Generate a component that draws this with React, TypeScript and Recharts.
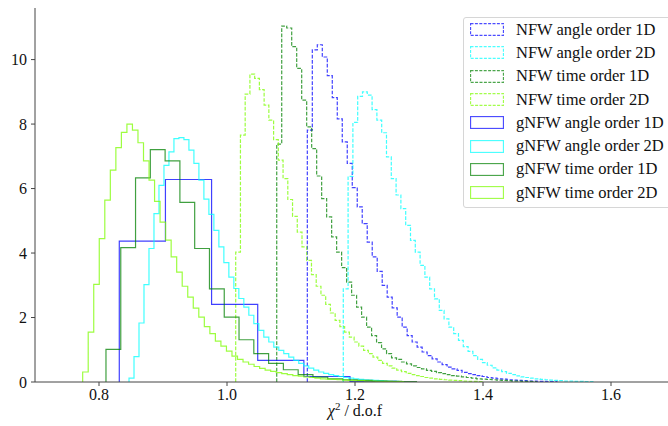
import { ComposedChart, Line, XAxis, YAxis, Legend } from "recharts";

const serif = '"Liberation Serif", Tinos, "Times New Roman", Times, "DejaVu Serif", serif';

const xTicks = [0.8, 1.0, 1.2, 1.4, 1.6];
const yTicks = [0, 2, 4, 6, 8, 10];

// each histogram: first bin edge, bin width, densities per bin

// NFW angle order 1D
const nfwAngle1DStart = 1.1255;
const nfwAngle1DBin = 0.0078;
const nfwAngle1D = [
    7.81, 10.3, 10.46, 10.08, 9.5, 8.82, 8.16, 7.45, 6.78, 6.03,
    5.43, 4.91, 4.34, 3.88, 3.43, 3.0, 2.63, 2.3, 2.01, 1.7,
    1.44, 1.24, 1.08, 0.93, 0.82, 0.72, 0.62, 0.54, 0.46, 0.41,
    0.36, 0.3, 0.26, 0.23, 0.2, 0.17, 0.14, 0.12, 0.1, 0.09,
    0.07, 0.06, 0.05, 0.04, 0.03, 0.03, 0.02, 0.02, 0.01, 0.01,
];

// NFW angle order 2D
const nfwAngle2DStart = 1.1817;
const nfwAngle2DBin = 0.0075;
const nfwAngle2D = [
    2.89, 6.38, 8.05, 8.86, 9.0, 8.9, 8.45, 8.12, 7.73, 6.98,
    6.31, 5.8, 5.38, 4.86, 4.39, 4.03, 3.62, 3.25, 2.89, 2.58,
    2.22, 1.96, 1.7, 1.5, 1.29, 1.1, 0.95, 0.82, 0.7, 0.6,
    0.52, 0.44, 0.37, 0.32, 0.27, 0.23, 0.19, 0.16, 0.14, 0.12,
    0.1, 0.08, 0.07, 0.06, 0.05, 0.04, 0.03, 0.03, 0.02, 0.02,
    0.01, 0.01,
];

// NFW time order 1D
const nfwTime1DStart = 1.0777;
const nfwTime1DBin = 0.0078;
const nfwTime1D = [
    7.38, 11.04, 10.98, 10.4, 9.73, 8.74, 7.91, 7.24, 6.39, 5.69,
    5.12, 4.5, 4.03, 3.55, 3.1, 2.69, 2.32, 2.01, 1.7, 1.44,
    1.22, 1.03, 0.88, 0.75, 0.7, 0.62, 0.56, 0.5, 0.45, 0.41,
    0.36, 0.33, 0.29, 0.26, 0.23, 0.2, 0.18, 0.16, 0.14, 0.12,
    0.1, 0.09, 0.08, 0.07, 0.06, 0.05, 0.04, 0.03, 0.03, 0.02,
    0.02, 0.01,
];

// NFW time order 2D
const nfwTime2DStart = 1.0136;
const nfwTime2DBin = 0.0074;
const nfwTime2D = [
    4.03, 7.66, 8.93, 9.55, 9.42, 9.07, 8.59, 8.12, 7.52, 6.88,
    6.31, 5.66, 5.14, 4.65, 4.19, 3.77, 3.33, 2.97, 2.69, 2.41,
    2.14, 1.91, 1.72, 1.55, 1.39, 1.24, 1.11, 0.98, 0.88, 0.77,
    0.67, 0.58, 0.5, 0.43, 0.37, 0.32, 0.27, 0.23, 0.2, 0.17,
    0.14, 0.12, 0.1, 0.08, 0.07, 0.06, 0.05, 0.04, 0.03, 0.02,
    0.02, 0.01,
];

// gNFW angle order 1D
const gnfwAngle1DStart = 0.8317;
const gnfwAngle1DBin = 0.0721;
const gnfwAngle1D = [4.37, 6.28, 2.41, 0.67, 0.17, 0.02];

// gNFW angle order 2D
const gnfwAngle2DStart = 0.8469;
const gnfwAngle2DBin = 0.0078;
const gnfwAngle2D = [
    0.12, 0.79, 1.83, 3.02, 4.14, 5.22, 6.1, 6.72, 7.14, 7.55,
    7.58, 7.52, 7.19, 6.78, 6.26, 5.67, 5.2, 4.7, 4.19, 3.7,
    3.25, 2.9, 2.59, 2.32, 2.07, 1.81, 1.6, 1.39, 1.24, 1.08,
    0.98, 0.88, 0.77, 0.67, 0.58, 0.5, 0.43, 0.37, 0.31, 0.27,
    0.23, 0.2, 0.17, 0.14, 0.12, 0.1, 0.08, 0.07, 0.06, 0.05,
    0.04, 0.03, 0.02, 0.02, 0.01,
];

// gNFW time order 1D
const gnfwTime1DStart = 0.8109;
const gnfwTime1DBin = 0.0231;
const gnfwTime1D = [
    1.01, 4.17, 6.33, 7.21, 6.86, 5.57, 4.14, 2.89, 2.01, 1.31,
    0.88, 0.58, 0.38, 0.23, 0.15, 0.1, 0.07, 0.05, 0.03, 0.02,
    0.01,
];

// gNFW time order 2D
const gnfwTime2DStart = 0.7745;
const gnfwTime2DBin = 0.00864;
const gnfwTime2D = [
    0.31, 1.55, 3.03, 4.45, 5.64, 6.57, 7.27, 7.74, 8.0, 7.81,
    7.42, 6.86, 6.26, 5.6, 4.96, 4.4, 3.88, 3.41, 2.97, 2.63,
    2.29, 2.01, 1.72, 1.5, 1.27, 1.11, 0.96, 0.8, 0.7, 0.62,
    0.55, 0.48, 0.42, 0.37, 0.33, 0.29, 0.26, 0.23, 0.2, 0.18,
    0.16, 0.14, 0.12, 0.1, 0.09, 0.08, 0.07, 0.06, 0.05, 0.04,
    0.04, 0.03, 0.03, 0.02, 0.02, 0.02, 0.01, 0.01,
];

type Pt = { x: number; y: number };

// outline of a step histogram: up from the first edge, across the bins, down at the last edge
function stepOutline(start: number, bin: number, values: number[]): Pt[] {
    const pts: Pt[] = [{ x: start, y: 0 }];
    values.forEach((v, i) => pts.push({ x: start + i * bin, y: v }));
    const end = start + values.length * bin;
    pts.push({ x: end, y: values[values.length - 1] });
    pts.push({ x: end, y: 0 });
    return pts;
}

const series = [
    { name: "NFW angle order 1D", color: "#0000ff", dashed: true, data: stepOutline(nfwAngle1DStart, nfwAngle1DBin, nfwAngle1D) },
    { name: "NFW angle order 2D", color: "#00ffff", dashed: true, data: stepOutline(nfwAngle2DStart, nfwAngle2DBin, nfwAngle2D) },
    { name: "NFW time order 1D", color: "#008000", dashed: true, data: stepOutline(nfwTime1DStart, nfwTime1DBin, nfwTime1D) },
    { name: "NFW time order 2D", color: "#7cfc00", dashed: true, data: stepOutline(nfwTime2DStart, nfwTime2DBin, nfwTime2D) },
    { name: "gNFW angle order 1D", color: "#0000ff", dashed: false, data: stepOutline(gnfwAngle1DStart, gnfwAngle1DBin, gnfwAngle1D) },
    { name: "gNFW angle order 2D", color: "#00ffff", dashed: false, data: stepOutline(gnfwAngle2DStart, gnfwAngle2DBin, gnfwAngle2D) },
    { name: "gNFW time order 1D", color: "#008000", dashed: false, data: stepOutline(gnfwTime1DStart, gnfwTime1DBin, gnfwTime1D) },
    { name: "gNFW time order 2D", color: "#7cfc00", dashed: false, data: stepOutline(gnfwTime2DStart, gnfwTime2DBin, gnfwTime2D) },
];

const DASH = "3.7 1.6";

const renderLegend = () => (
    <div
        style={{
            width: 215,
            height: 191,
            boxSizing: "border-box",
            border: "1px solid #d6d6d6",
            borderRadius: 3,
            background: "rgba(255,255,255,0.8)",
            paddingTop: 0,
            fontFamily: serif,
        }}
    >
        {series.map((s) => (
            <div key={s.name} style={{ display: "flex", alignItems: "center", height: 23.3 }}>
                <svg width={34} height={13} style={{ marginLeft: 6, flex: "none" }}>
                    <rect
                        x={0.5}
                        y={0.5}
                        width={33}
                        height={12}
                        fill="none"
                        stroke={s.color}
                        strokeOpacity={0.7}
                        strokeWidth={1.3}
                        strokeDasharray={s.dashed ? "3 1.4" : undefined}
                    />
                </svg>
                <span style={{ marginLeft: 12, fontSize: 16.5, color: "#111", whiteSpace: "nowrap" }}>{s.name}</span>
            </div>
        ))}
    </div>
);

const renderXLabel = ({ viewBox }: any) => {
    const cx = viewBox.x + viewBox.width / 2;
    return (
        <text x={cx} y={416} textAnchor="middle" fontFamily={serif} fontSize={16} fill="#111">
            <tspan fontStyle="italic">χ</tspan>
            <tspan dy={-6} fontSize={11}>2</tspan>
            <tspan dy={6}> / d.o.f</tspan>
        </text>
    );
};

export default function App() {
    const tickStyle = { fontFamily: serif, fontSize: 16, fill: "#111" };
    return (
        <div style={{ position: "absolute", left: 0, top: 0, width: 668, height: 426, overflow: "hidden", background: "#fff", fontFamily: serif }}>
            <ComposedChart width={680} height={426} margin={{ top: 8, right: 5, bottom: 0, left: 0 }}>
                <XAxis
                    type="number"
                    dataKey="x"
                    domain={[0.7, 1.7]}
                    allowDataOverflow
                    ticks={xTicks}
                    tickFormatter={(v: number) => v.toFixed(1)}
                    tick={tickStyle}
                    tickSize={4}
                    tickMargin={3}
                    height={44}
                    stroke="#444"
                    label={{ content: renderXLabel }}
                />
                <XAxis
                    xAxisId="top"
                    orientation="top"
                    type="number"
                    domain={[0.7, 1.7]}
                    tick={false}
                    tickLine={false}
                    height={0}
                    stroke="#444"
                />
                <YAxis
                    type="number"
                    domain={[0, 11.6]}
                    allowDataOverflow
                    ticks={yTicks}
                    tick={tickStyle}
                    tickSize={4}
                    tickMargin={4}
                    width={35}
                    stroke="#444"
                />
                {series.map((s) => (
                    <Line
                        key={s.name}
                        data={s.data}
                        dataKey="y"
                        name={s.name}
                        type="stepAfter"
                        stroke={s.color}
                        strokeOpacity={0.75}
                        strokeWidth={1.2}
                        strokeDasharray={s.dashed ? DASH : undefined}
                        dot={false}
                        activeDot={false}
                        isAnimationActive={false}
                    />
                ))}
                <Legend
                    layout="vertical"
                    align="center"
                    verticalAlign="middle"
                    content={renderLegend}
                    wrapperStyle={{ left: 463, top: 17, width: 215 }}
                />
            </ComposedChart>
        </div>
    );
}
